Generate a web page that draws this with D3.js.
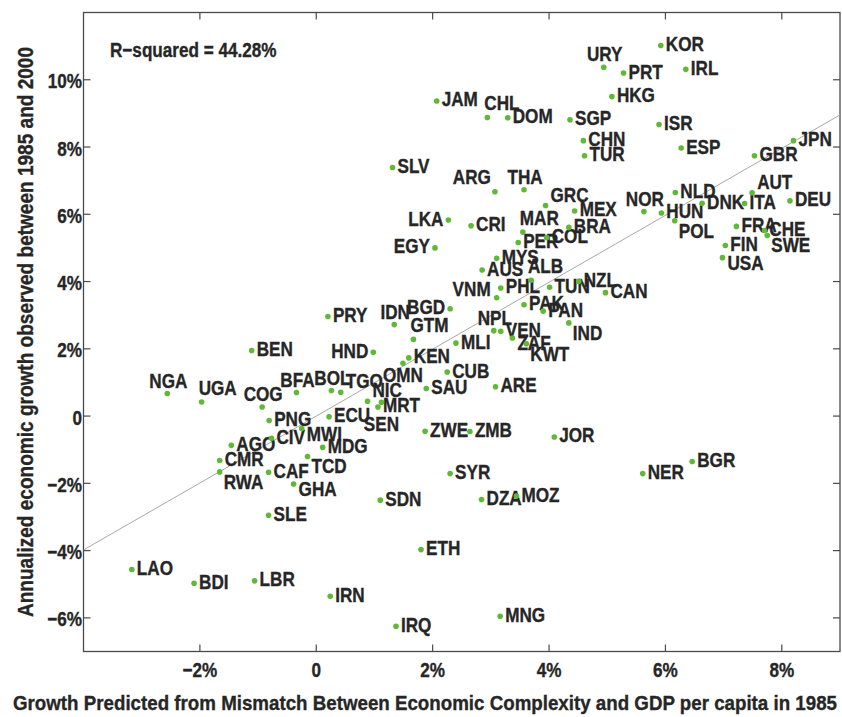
<!DOCTYPE html>
<html>
<head>
<meta charset="utf-8">
<script src="https://cdn.jsdelivr.net/npm/d3@7"></script>
<style>
  body { margin: 0; background: #fff; }
  text { font-family: "Liberation Sans Narrow", "Liberation Sans", Arial, sans-serif; font-weight: bold; fill: #262626; }
  .heavy { stroke: #262626; stroke-width: 0.35px; }
</style>
</head>
<body>
<script>
// country codes, predicted growth (x, %) and observed growth 1985-2000 (y, %)
const countries = ['KOR','URY','PRT','IRL','HKG','JAM','CHL','DOM','SGP','ISR','CHN','ESP','TUR','GBR','JPN','SLV',
  'ARG','THA','GRC','MEX','NOR','NLD','HUN','POL','DNK','ITA','AUT','DEU','LKA','CRI','MAR','BRA','COL','PER','EGY',
  'FRA','CHE','SWE','FIN','USA','MYS','AUS','ALB','PHL','TUN','NZL','CAN','VNM','PAK','BGD','PAN','IDN','PRY','IND',
  'NPL','VEN','GTM','ZAF','KWT','MLI','BEN','HND','KEN','OMN','CUB','NGA','UGA','BFA','BOL','TGO','SAU','ARE','NIC',
  'SEN','MRT','COG','ECU','PNG','MWI','ZWE','ZMB','JOR','CIV','AGO','MDG','CMR','TCD','BGR','CAF','RWA','NER','SYR',
  'GHA','SDN','DZA','MOZ','SLE','ETH','LAO','LBR','BDI','IRN','MNG','IRQ'];
const predicted = [5.92,4.94,5.28,6.35,5.08,2.07,2.94,3.29,4.36,5.89,4.59,6.27,4.61,7.53,8.20,1.31,
  3.07,3.57,3.94,4.44,5.63,6.17,5.93,6.16,6.63,7.36,7.49,8.14,2.27,2.66,3.55,4.34,3.96,3.47,2.04,
  7.22,7.70,7.75,7.03,6.98,3.10,2.85,3.69,3.17,4.01,4.51,4.97,3.10,3.57,2.30,3.90,1.34,0.20,4.34,
  3.05,3.17,1.67,3.37,3.61,2.40,-1.11,0.98,1.59,1.49,2.25,-2.56,-1.97,-0.34,0.26,0.42,1.89,3.08,0.88,
  1.12,1.06,-0.93,0.22,-0.81,-0.25,1.87,2.64,4.09,-0.77,-1.46,0.11,-1.66,-0.15,6.46,-0.82,-1.66,5.61,2.30,
  -0.39,1.10,2.84,3.44,-0.82,1.80,-3.17,-1.06,-2.10,0.24,3.16,1.37];
const observed = [11.02,10.37,10.20,10.31,9.50,9.37,8.88,8.87,8.81,8.67,8.19,7.97,7.74,7.74,8.19,7.39,
  6.67,6.73,6.26,6.10,6.08,6.65,6.04,5.81,6.33,6.32,6.64,6.40,5.83,5.66,5.47,5.61,5.31,5.16,5.00,
  5.64,5.52,5.37,5.07,4.71,4.69,4.34,4.04,3.81,3.83,4.01,3.67,3.52,3.31,3.19,3.12,2.72,2.96,2.77,
  2.54,2.52,2.28,2.32,2.15,2.17,1.95,1.90,1.73,1.57,1.31,0.67,0.42,0.70,0.76,0.71,0.82,0.87,0.44,
  0.41,0.27,0.27,-0.02,-0.13,-0.37,-0.45,-0.46,-0.62,-0.66,-0.87,-0.93,-1.32,-1.20,-1.35,-1.67,-1.66,-1.71,-1.71,
  -2.02,-2.50,-2.48,-2.38,-2.95,-3.97,-4.56,-4.90,-4.97,-5.36,-5.95,-6.25];

const xTicks = [-2, 0, 2, 4, 6, 8];
const yTicks = [-6, -4, -2, 0, 2, 4, 6, 8, 10];
const rSquared = 44.28;
const fitSlope = 0.995, fitIntercept = 0.0;

// where each label sits relative to its dot (default: right)
const labelSide = {
  URY:'t', THA:'t', NOR:'t', IDN:'t', NPL:'t', NGA:'t', COG:'t', BFA:'t', BOL:'t',
  CHL:'tr', MAR:'tr', GTM:'tr', UGA:'tr', ALB:'tr',
  ARG:'tl', VNM:'lu',
  GRC:'ur', AUT:'ur', NIC:'ur', TGO:'ur',
  LKA:'l', EGY:'l', HND:'l', BGD:'l',
  ZAF:'rd', MWI:'rd', GHA:'rd', USA:'rd',
  IND:'br', KWT:'br', POL:'br', SWE:'br', RWA:'br', TCD:'br',
  OMN:'b', SEN:'b2'
};
const placements = {
  r:  [5, 5.5, 'start'],  l:  [-5, 5.5, 'end'],
  t:  [1, -6, 'middle'],  tr: [-3, -7, 'start'], tl: [-4, -8, 'end'],
  ur: [5, -4, 'start'],   lu: [-6, -2, 'end'],
  rd: [5, 12, 'start'],   br: [4, 17, 'start'],
  b:  [0, 19, 'middle'],  b2: [0, 29, 'middle']
};

const width = 842, height = 717;
const box = { left: 83.5, right: 840, top: 12.5, bottom: 651.5 };
const tickLen = 7;
const dotColour = '#5fb836', frameColour = '#4a4a4a';

const x = d3.scaleLinear().domain([-4, 9]).range([box.left, box.right]);
const y = d3.scaleLinear().domain([-7, 12]).range([box.bottom, box.top]);

const svg = d3.select('body').append('svg')
  .attr('width', width).attr('height', height);

// squeeze the font horizontally to match the condensed face of the original
const probe = svg.append('text').style('font-size', '20px').text('R\u2212squared = 44.28%');
const sx = 166.7 / probe.node().getComputedTextLength();
probe.remove();

const fmt = (d) => d === 0 ? '0' : (d < 0 ? '\u2212' : '') + Math.abs(d) + '%';

// frame
svg.append('rect')
  .attr('x', box.left).attr('y', box.top)
  .attr('width', box.right - box.left).attr('height', box.bottom - box.top)
  .attr('fill', 'none').attr('stroke', frameColour).attr('stroke-width', 1.3);

// inward ticks on all four sides
const ticks = svg.append('g').attr('stroke', frameColour).attr('stroke-width', 1.2);
xTicks.forEach((d) => {
  ticks.append('line').attr('x1', x(d)).attr('x2', x(d)).attr('y1', box.bottom).attr('y2', box.bottom - tickLen);
  ticks.append('line').attr('x1', x(d)).attr('x2', x(d)).attr('y1', box.top).attr('y2', box.top + tickLen);
});
yTicks.forEach((d) => {
  ticks.append('line').attr('y1', y(d)).attr('y2', y(d)).attr('x1', box.left).attr('x2', box.left + tickLen);
  ticks.append('line').attr('y1', y(d)).attr('y2', y(d)).attr('x1', box.right).attr('x2', box.right - tickLen);
});

svg.append('g').selectAll('text')
  .data(xTicks).join('text')
  .attr('class', 'heavy')
  .attr('transform', (d) => `translate(${x(d)},${677}) scale(${sx},1)`)
  .attr('text-anchor', 'middle')
  .style('font-size', '20px')
  .text(fmt);

svg.append('g').selectAll('text')
  .data(yTicks).join('text')
  .attr('class', 'heavy')
  .attr('transform', (d) => `translate(${box.left - 1.5},${y(d) + 8.5}) scale(${sx},1)`)
  .attr('text-anchor', 'end')
  .style('font-size', '20px')
  .text(fmt);

// axis titles
svg.append('text')
  .attr('class', 'heavy')
  .attr('x', 425).attr('y', 709.5)
  .attr('text-anchor', 'middle')
  .attr('textLength', 824).attr('lengthAdjust', 'spacingAndGlyphs')
  .style('font-size', '21px')
  .text('Growth Predicted from Mismatch Between Economic Complexity and GDP per capita in 1985');

svg.append('text')
  .attr('class', 'heavy')
  .attr('transform', 'translate(32.5,332) rotate(-90)')
  .attr('text-anchor', 'middle')
  .attr('textLength', 570).attr('lengthAdjust', 'spacingAndGlyphs')
  .style('font-size', '22px')
  .text('Annualized economic growth observed between 1985 and 2000');

// fitted line, clipped to the plot box
svg.append('clipPath').attr('id', 'plot')
  .append('rect').attr('x', box.left).attr('y', box.top)
  .attr('width', box.right - box.left).attr('height', box.bottom - box.top);

const xs = x.domain();
svg.append('line')
  .attr('clip-path', 'url(#plot)')
  .attr('x1', x(xs[0])).attr('y1', y(fitIntercept + fitSlope * xs[0]))
  .attr('x2', x(xs[1])).attr('y2', y(fitIntercept + fitSlope * xs[1]))
  .attr('stroke', '#a8a8a8').attr('stroke-width', 1);

svg.append('text')
  .attr('class', 'heavy')
  .attr('transform', `translate(110,56.7) scale(${sx},1)`)
  .style('font-size', '20px')
  .text(`R\u2212squared = ${rSquared.toFixed(2)}%`);

const points = countries.map((c, i) => ({ code: c, px: predicted[i], obs: observed[i] }));

svg.append('g').selectAll('text')
  .data(points).join('text')
  .attr('class', 'heavy')
  .each(function (d) {
    const [dx, dy, anchor] = placements[labelSide[d.code] || 'r'];
    d3.select(this)
      .attr('transform', `translate(${x(d.px) + dx},${y(d.obs) + dy}) scale(${sx},1)`)
      .attr('text-anchor', anchor);
  })
  .style('font-size', '20px')
  .text((d) => d.code);

svg.append('g').selectAll('circle')
  .data(points).join('circle')
  .attr('cx', (d) => x(d.px))
  .attr('cy', (d) => y(d.obs))
  .attr('r', 2.8)
  .attr('fill', dotColour);
</script>
</body>
</html>
